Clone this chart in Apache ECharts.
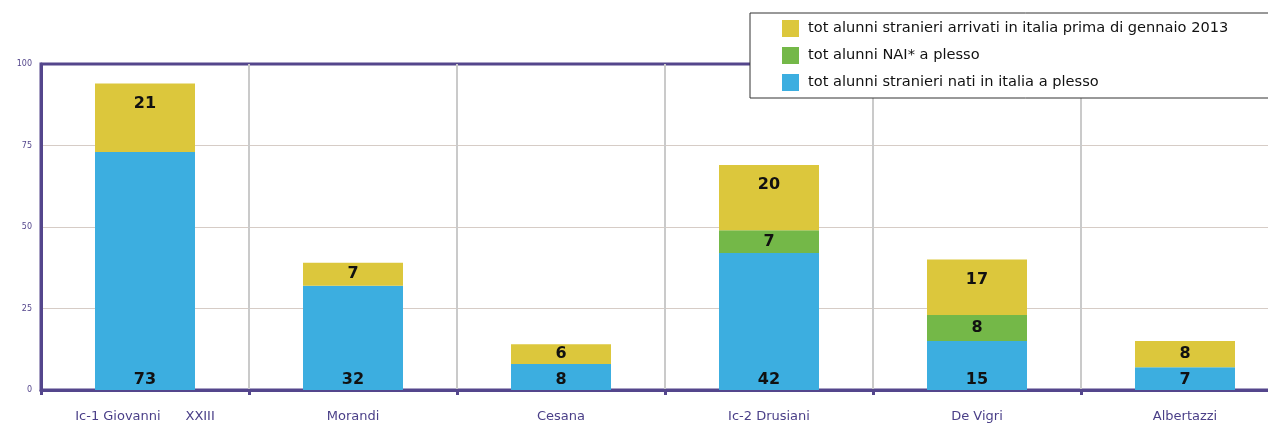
<!DOCTYPE html>
<html><head><meta charset="utf-8">
<script src="https://cdn.jsdelivr.net/npm/echarts@6/dist/echarts.min.js"></script>
<style>html,body{margin:0;padding:0;background:#fff;overflow:hidden}#c{width:1300px;height:427px}</style>
</head><body><div id="c"></div>
<script>
const categories = ['Ic-1 Giovanni      XXIII', 'Morandi', 'Cesana', 'Ic-2 Drusiani', 'De Vigri', 'Albertazzi'];
const natiItalia = [73, 32, 8, 42, 15, 7];
const nai = [0, 0, 0, 7, 8, 0];
const arrivati = [21, 7, 6, 20, 17, 8];
const seriesNames = ['tot alunni stranieri arrivati in italia prima di gennaio 2013', 'tot alunni NAI* a plesso', 'tot alunni stranieri nati in italia a plesso'];
const yTicks = [0, 25, 50, 75, 100];

const FONT = '"DejaVu Sans", sans-serif';
const lbl = {color: '#111', fontSize: 16, fontWeight: 'bold', fontFamily: FONT};
const chart = echarts.init(document.getElementById('c'));
chart.setOption({
  animation: false,
  grid: {left: 41, width: 1248, top: 64, bottom: 37, show: true, borderColor: '#54468c', borderWidth: 3, backgroundColor: 'transparent'},
  legend: {
    orient: 'vertical', left: 750, top: 13, itemWidth: 17, itemHeight: 17, itemGap: 10,
    padding: [7, 80, 7, 32],
    backgroundColor: '#fff', borderColor: '#333', borderWidth: 1, borderRadius: 0,
    textStyle: {color: '#111', fontSize: 14.6, fontFamily: FONT, padding: [0, 0, 0, 4]},
    data: seriesNames.map(n => ({name: n, icon: 'rect'}))
  },
  xAxis: {
    type: 'category', data: categories,
    axisLine: {lineStyle: {color: '#54468c', width: 3}},
    axisTick: {show: true, length: 5, lineStyle: {color: '#54468c', width: 3}},
    splitLine: {show: true, lineStyle: {color: '#cacaca', width: 2}},
    axisLabel: {color: '#4a3f88', fontSize: 13, fontFamily: FONT, margin: 20}
  },
  yAxis: {
    type: 'value', min: 0, max: 100, interval: 25,
    axisLine: {show: true, lineStyle: {color: '#54468c', width: 3}},
    axisTick: {show: false},
    splitLine: {show: true, lineStyle: {color: ['transparent', '#d6ccc6', '#d6ccc6', '#d6ccc6', 'transparent'], width: 1}},
    axisLabel: {color: '#54468c', fontSize: 8, fontFamily: FONT, margin: 9, formatter: v => yTicks.includes(v) ? String(v) : ''}
  },
  series: [
    {name: seriesNames[2], type: 'bar', stack: 's', barWidth: 100, itemStyle: {color: '#3caee0'},
     data: natiItalia, label: Object.assign({show: true, position: 'insideBottom', distance: 2}, lbl)},
    {name: seriesNames[1], type: 'bar', stack: 's', barWidth: 100, itemStyle: {color: '#74b848'},
     data: nai.map(v => v === 0 ? {value: 0, label: {show: false}} : v),
     label: Object.assign({show: true, position: 'inside'}, lbl)},
    {name: seriesNames[0], type: 'bar', stack: 's', barWidth: 100, itemStyle: {color: '#dcc73c'},
     data: arrivati.map(v => v >= 15 ? {value: v, label: {position: 'insideTop', distance: 12}} : v),
     label: Object.assign({show: true, position: 'inside'}, lbl)}
  ]
});
</script></body></html>
